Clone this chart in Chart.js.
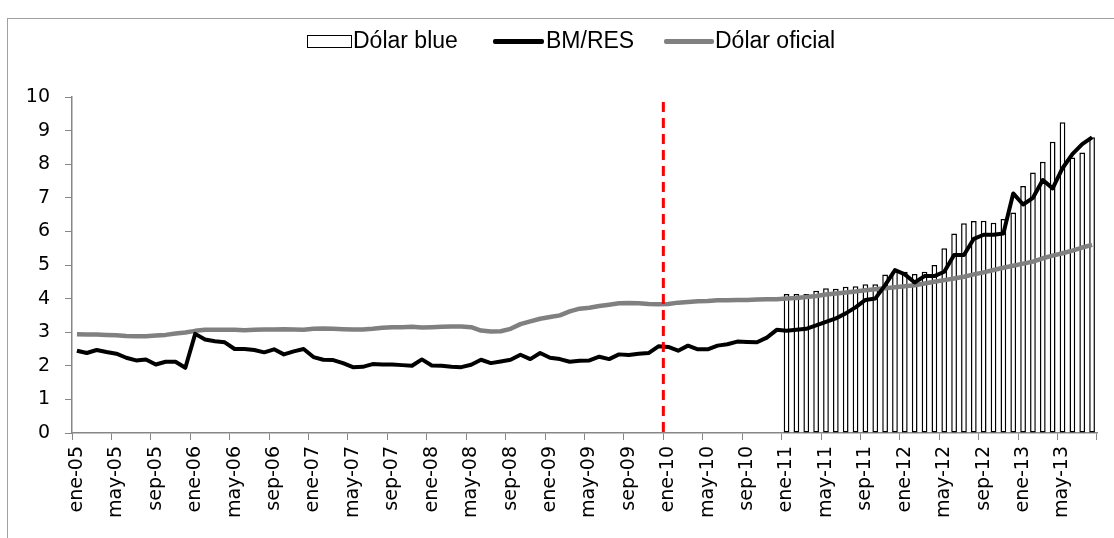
<!DOCTYPE html>
<html>
<head>
<meta charset="utf-8">
<script src="https://cdn.jsdelivr.net/npm/chart.js@4"></script>
<style>
  body { margin: 0; background: #fff; }
  #wrap { position: relative; width: 1114px; height: 538px; overflow: hidden; }
  #frame { position: absolute; left: 7px; top: 18px; width: 1200px; height: 600px; border: 1.5px solid #a0a0a0; }
  .lg { position: absolute; top: 26px; font-family: "Liberation Sans", Arial, sans-serif; font-size: 23px; color: #000; line-height: 28px; white-space: nowrap; }
  .sw { position: absolute; }
  canvas { position: absolute; left: 0; top: 0; }
</style>
</head>
<body>
<div id="wrap">
  <div id="frame"></div>
  <canvas id="chart" width="1114" height="538"></canvas>
  <div class="sw" style="left:307px;top:35px;width:43px;height:11px;border:1px solid #000;background:#fff"></div>
  <div class="lg" style="left:353px">Dólar blue</div>
  <div class="sw" style="left:493px;top:39px;width:51px;height:5px;background:#000;border-radius:2px"></div>
  <div class="lg" style="left:546px">BM/RES</div>
  <div class="sw" style="left:664px;top:39px;width:50px;height:5px;background:#808080;border-radius:2px"></div>
  <div class="lg" style="left:715px">Dólar oficial</div>
</div>
<script>
const monthNames = ["ene", "feb", "mar", "abr", "may", "jun", "jul", "ago", "sep", "oct", "nov", "dic"];
const years = ["05", "06", "07", "08", "09", "10", "11", "12", "13"];
const labels = [];
years.forEach(y => monthNames.forEach(m => labels.push(m + "-" + y)));
labels.length = 104; // ene-05 .. ago-13

const bmRes = [
  2.45, 2.38, 2.47, 2.41, 2.36, 2.24, 2.16, 2.19, 2.04, 2.12, 2.12, 1.94,
  2.95, 2.78, 2.73, 2.70, 2.50, 2.50, 2.47, 2.40, 2.49, 2.34, 2.43, 2.50,
  2.26, 2.18, 2.17, 2.08, 1.96, 1.97, 2.05, 2.04, 2.04, 2.02, 2.00, 2.19,
  2.01, 2.00, 1.97, 1.96, 2.03, 2.18, 2.08, 2.13, 2.18, 2.33, 2.20, 2.38,
  2.24, 2.20, 2.12, 2.15, 2.16, 2.27, 2.20, 2.34, 2.32, 2.36, 2.38, 2.58,
  2.56, 2.45, 2.60, 2.49, 2.49, 2.60, 2.64, 2.72, 2.71, 2.70, 2.84, 3.07,
  3.04, 3.07, 3.10, 3.20, 3.31, 3.41, 3.56, 3.74, 3.96, 4.00, 4.40, 4.85,
  4.72, 4.48, 4.67, 4.67, 4.80, 5.30, 5.30, 5.78, 5.90, 5.90, 5.94, 7.13,
  6.80, 7.00, 7.53, 7.28, 7.88, 8.30, 8.60, 8.80
];

const oficial = [
  2.94, 2.93, 2.93, 2.92, 2.91, 2.89, 2.88, 2.88, 2.90, 2.92, 2.96, 2.99,
  3.04, 3.07, 3.07, 3.07, 3.07, 3.06, 3.07, 3.08, 3.08, 3.09, 3.08, 3.07,
  3.10, 3.11, 3.10, 3.09, 3.08, 3.08, 3.10, 3.13, 3.15, 3.15, 3.16, 3.14,
  3.15, 3.16, 3.17, 3.17, 3.15, 3.05, 3.02, 3.03, 3.10, 3.24, 3.32, 3.40,
  3.45, 3.50, 3.62, 3.70, 3.73, 3.78, 3.82, 3.86, 3.87, 3.86, 3.84, 3.83,
  3.84, 3.88, 3.90, 3.92, 3.93, 3.95, 3.95, 3.96, 3.96, 3.97, 3.98, 3.98,
  4.00, 4.02, 4.05, 4.08, 4.12, 4.15, 4.18, 4.21, 4.25, 4.28, 4.31, 4.34,
  4.37, 4.40, 4.45, 4.50, 4.55, 4.60, 4.65, 4.72, 4.78, 4.85, 4.92, 4.98,
  5.04, 5.10, 5.20, 5.28, 5.35, 5.43, 5.52, 5.60
];

// Dólar blue, desde ene-11
const blueFrom = 72;
const blue2011 = [4.14, 4.14, 4.14, 4.23, 4.31, 4.29, 4.35, 4.37, 4.43, 4.43, 4.72, 4.82,
  4.80, 4.73, 4.80, 5.00, 5.50, 5.94, 6.24, 6.31, 6.32, 6.26, 6.37, 6.56,
  7.35, 7.75, 8.07, 8.67, 9.25, 8.20, 8.35, 8.80];
const blue = Array(blueFrom).fill(null).concat(blue2011);

const yTicks = [0, 10, 1]; // min, max, step
const markIndex = 60; // ene-10

const tickFont = { family: "DejaVu Sans", size: 19 };
const axisGray = "#868686";

const markLine = {
  id: "markLine",
  afterDatasetsDraw(chart) {
    const x = chart.scales.x, y = chart.scales.y;
    const px = (x.getPixelForValue(markIndex - 1) + x.getPixelForValue(markIndex)) / 2;
    const ctx = chart.ctx;
    ctx.save();
    ctx.strokeStyle = "#ff0000";
    ctx.lineWidth = 3;
    ctx.setLineDash([10, 6]);
    ctx.beginPath();
    ctx.moveTo(px, y.getPixelForValue(9.85));
    ctx.lineTo(px, y.getPixelForValue(0));
    ctx.stroke();
    ctx.restore();
  }
};

new Chart(document.getElementById("chart"), {
  type: "bar",
  data: {
    labels: labels,
    datasets: [
      {
        type: "line",
        label: "BM/RES",
        data: bmRes,
        borderColor: "#000",
        borderWidth: 4,
        pointRadius: 0,
        tension: 0,
        borderJoinStyle: "round",
        order: 1
      },
      {
        type: "line",
        label: "Dólar oficial",
        data: oficial,
        borderColor: "#808080",
        borderWidth: 4.5,
        pointRadius: 0,
        tension: 0,
        borderJoinStyle: "round",
        order: 2
      },
      {
        label: "Dólar blue",
        data: blue,
        backgroundColor: "#fff",
        borderColor: "#000",
        borderWidth: 1.5,
        borderSkipped: false,
        categoryPercentage: 1,
        barPercentage: 0.58,
        order: 3
      }
    ]
  },
  options: {
    responsive: false,
    animation: false,
    layout: { padding: { left: 0, top: 97, right: 17, bottom: 0 } },
    plugins: { legend: { display: false }, tooltip: { enabled: false } },
    scales: {
      x: {
        offset: true,
        grid: {
          offset: true,
          drawOnChartArea: false,
          tickLength: 7,
          color: ctx => (ctx.index === undefined || ctx.index % 4 === 0) ? axisGray : "rgba(0,0,0,0)"
        },
        border: { color: axisGray, width: 1.5 },
        ticks: {
          autoSkip: false,
          minRotation: 90,
          maxRotation: 90,
          padding: 6,
          color: "#000",
          font: tickFont,
          callback: function (val, index) { return index % 4 === 0 ? this.getLabelForValue(val) : ""; }
        },
        afterFit: s => { s.height = 105; s.paddingLeft = 0; s.paddingRight = 0; }
      },
      y: {
        min: yTicks[0],
        max: yTicks[1],
        grid: { drawOnChartArea: false, tickLength: 7, color: axisGray },
        border: { color: axisGray, width: 1.5 },
        ticks: { stepSize: yTicks[2], padding: 15, color: "#000", font: tickFont },
        afterFit: s => { s.width = 72; s.paddingTop = 0; s.paddingBottom = 0; }
      }
    }
  },
  plugins: [markLine]
});
</script>
</body>
</html>
